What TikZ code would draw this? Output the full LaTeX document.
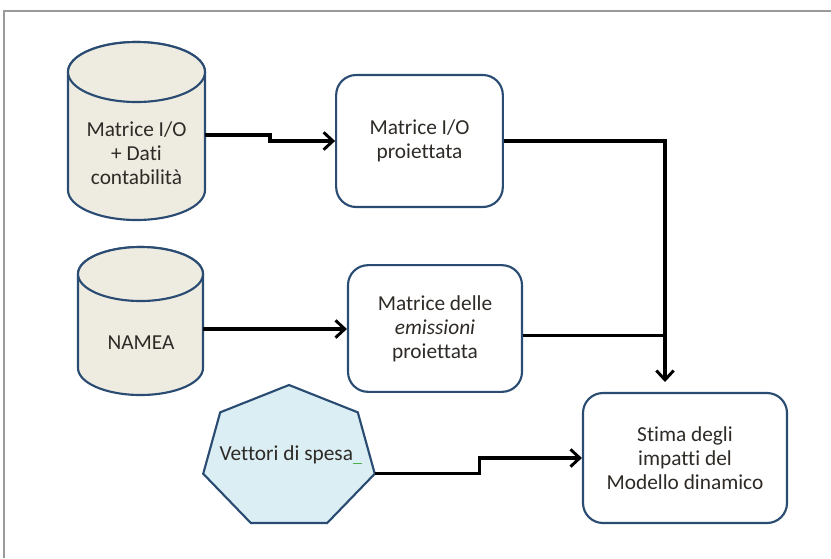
\documentclass[tikz,border=0pt]{standalone}
\usepackage{fontspec}
\setmainfont{Carlito}[Ligatures={NoCommon}]
\usetikzlibrary{arrows.meta}
\definecolor{edge}{HTML}{2B4C72}
\definecolor{beige}{HTML}{EEECE1}
\definecolor{pale}{HTML}{DBEEF4}
\definecolor{ink}{HTML}{2E2A26}
\definecolor{rimgray}{HTML}{9A9A9A}
\definecolor{spell}{HTML}{4CAF50}
\begin{document}
\begin{tikzpicture}[x=0.75pt,y=0.75pt,
                    txt/.style = {align=center, text=ink, font=\fontsize{16}{18}\selectfont},
                    box/.style = {txt, draw=edge, line width=1.6pt, rounded corners=15pt, fill=white},
                    db/.style = {draw=edge, line width=1.6pt, fill=beige},
                    wire/.style = {draw=black, line width=2.5pt},
                    arrow/.style = {wire, -{Straight Barb[length=7pt,width=13pt,line width=2.2pt]}}]
                        \useasboundingbox (0,0) rectangle (831,-558);
                        \draw[rimgray, line width=1pt] (4,-558) -- (4,-11) -- (831,-11);

                        % databases
                        \filldraw[db] (68,-72) -- (68,-190) arc[start angle=180, end angle=360, x radius=68.5, y radius=30]
                                      -- (205,-72) arc[start angle=0, end angle=180, x radius=68.5, y radius=30] -- cycle;
                        \draw[db] (136.5,-72) ellipse[x radius=68.5, y radius=30];
                        \node[txt] (io) at (136.5,-153) {Matrice I/O\\+ Dati\\contabilità};
                        \coordinate (io-e) at (205,-135);

                        \filldraw[db] (78,-274) -- (78,-368) arc[start angle=180, end angle=360, x radius=62.5, y radius=27]
                                      -- (203,-274) arc[start angle=0, end angle=180, x radius=62.5, y radius=27] -- cycle;
                        \draw[db] (140.5,-274) ellipse[x radius=62.5, y radius=27];
                        \node[txt] (namea) at (141,-343) {NAMEA};
                        \coordinate (nm-e) at (203,-329);

                        % spending vectors
                        \begin{scope}[shift={(289,-457.6)}]
                            \filldraw[draw=edge, fill=pale, line width=1.6pt]
                                (90:88 and 72.6) \foreach \k in {1,...,6} { -- (90+\k*360/7:88 and 72.6) } -- cycle;
                            \coordinate (vs-e) at (-12.857:88 and 72.6);
                        \end{scope}
                        \node[txt] (vs) at (291,-455) {Vettori di spesa\textcolor{spell}{\rule[-3pt]{7pt}{0.8pt}}};

                        % processing boxes
                        \node[box, minimum width=125pt, minimum height=99pt] (iop) at (419.5,-141) {Matrice I/O\\proiettata};
                        \node[box, minimum width=130.5pt, minimum height=95pt] (emp) at (435,-328.5) {Matrice delle\\\textit{emissioni}\\proiettata};
                        \node[box, minimum width=153pt, minimum height=97.5pt] (stima) at (685,-458) {Stima degli\\impatti del\\Modello dinamico};
                        \coordinate (tip) at (665,-382);

                        \draw[arrow] (io-e) -- ++(65,0) |- (iop.west);
                        \draw[arrow] (nm-e) -- (nm-e -| emp.west);
                        \draw[arrow] (iop.east) -| (tip);
                        \draw[wire] ([yshift=-5pt]emp.east) -- ([yshift=-5pt]emp.east -| tip);
                        \draw[arrow] (vs-e) -- ++(105,0) |- (stima.west);
                    \end{tikzpicture}
\end{document}
